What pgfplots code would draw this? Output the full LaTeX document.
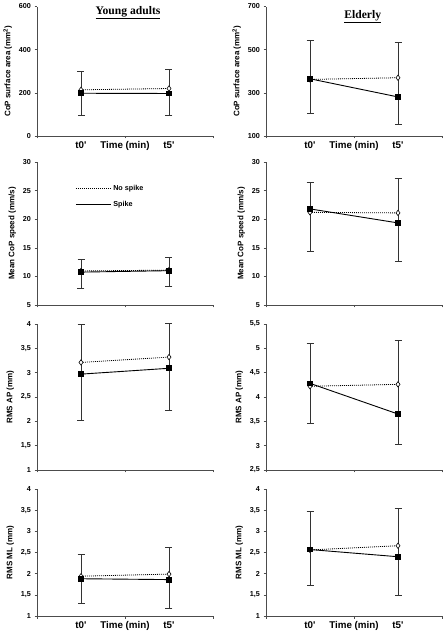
\documentclass[border=0pt]{standalone}
\usepackage{fontspec}
\setmainfont{Liberation Sans}
\newfontfamily\titlefont{Liberation Serif}
\usepackage{pgfplots}
\pgfplotsset{compat=1.18}
\pgfplotsset{
 panel/.style={scale only axis, width=176pt, axis lines*=left,
   axis line style={black!70, line width=0.6pt, -},
   xmin=0, xmax=2, xtick={0,1,2}, xticklabels={,,},
   tick align=outside, major tick length=2.5pt,
   tick style={black!70, line width=0.5pt},
   ticklabel style={font=\fontsize{7.2}{8}\selectfont\bfseries},
   ylabel style={font=\fontsize{8}{9}\selectfont\bfseries},
   yticklabel style={/pgf/number format/.cd, use comma, fixed, precision=1},
   /pgf/number format/assume math mode=true, clip=false},
 tlabels/.style={extra x ticks={0.5,1,1.5},
   extra x tick labels={t0\textquotesingle, Time (min), t5\textquotesingle},
   extra x tick style={major tick length=0pt,
     xticklabel style={font=\fontsize{9.8}{11}\selectfont\bfseries, yshift=-2pt}}},
 spike/.style={black, line width=0.9pt, mark=square*, mark size=2.4pt, mark options={solid, fill=black}},
 nospike/.style={black, line width=0.8pt, dash pattern=on 0.9pt off 1.1pt, mark=diamond*, mark size=2.7pt, mark options={solid, fill=white, line width=0.6pt}},
 ebar/.style={forget plot, draw=none, mark=none, error bars/.cd, y dir=both, y explicit,
   error bar style={black!80, line width=0.7pt},
   error mark options={rotate=90, mark size=3.5pt, black!80, line width=0.7pt}},
}
\begin{document}
\begin{tikzpicture}[x=1pt,y=1pt]
\useasboundingbox (0,0) rectangle (447,635);
% ---------- Row 1 ----------
\begin{axis}[panel, tlabels, at={(37pt,499pt)}, anchor=south west, height=129.5pt,
  ymin=0, ymax=600, ytick={0,200,400,600}, ylabel={CoP surface area (mm\textsuperscript{2})}]
\addplot[ebar] coordinates {(0.5,199) += (0,102) -= (0,102) (1.5,199) += (0,110) -= (0,102)};
\addplot[nospike] coordinates {(0.5,214) (1.5,220)};
\addplot[spike] coordinates {(0.5,198) (1.5,197)};
\node[font=\titlefont\fontsize{11.6}{13}\selectfont\bfseries] at (rel axis cs:0.517,0.95) {\underline{Young adults}};
\end{axis}
\begin{axis}[panel, tlabels, at={(266pt,499pt)}, anchor=south west, height=129.5pt,
  ymin=100, ymax=700, ytick={100,300,500,700}, ylabel={CoP surface area (mm\textsuperscript{2})}]
\addplot[ebar] coordinates {(0.5,365) += (0,176) -= (0,158) (1.5,283) += (0,251) -= (0,127)};
\addplot[nospike] coordinates {(0.5,362) (1.5,370)};
\addplot[spike] coordinates {(0.5,365) (1.5,281)};
\node[font=\titlefont\fontsize{11.6}{13}\selectfont\bfseries] at (rel axis cs:0.55,0.92) {\underline{Elderly}};
\end{axis}
% ---------- Row 2 ----------
\begin{axis}[panel, at={(37pt,330pt)}, anchor=south west, height=143pt,
  ymin=5, ymax=30, ytick={5,10,15,20,25,30}, ylabel={Mean CoP speed (mm/s)},
  legend style={draw=none, fill=none, at={(rel axis cs:0.2,0.87)}, anchor=north west,
    font=\fontsize{7.2}{8}\selectfont\bfseries, row sep=6pt},
  legend cell align=left,
  legend image code/.code={\draw[#1, mark=none] (0pt,0pt) -- (35pt,0pt);}]
\addplot[ebar] coordinates {(0.5,10.8) += (0,2.14) -= (0,2.94) (1.5,11.0) += (0,2.4) -= (0,2.67)};
\addplot[nospike] coordinates {(0.5,10.95) (1.5,11.1)};
\addlegendentry{No spike}
\addplot[spike] coordinates {(0.5,10.75) (1.5,11.0)};
\addlegendentry{Spike}
\end{axis}
\begin{axis}[panel, at={(266pt,330pt)}, anchor=south west, height=143pt,
  ymin=5, ymax=30, ytick={5,10,15,20,25,30}, ylabel={Mean CoP speed (mm/s)}]
\addplot[ebar] coordinates {(0.5,21.8) += (0,4.64) -= (0,7.34) (1.5,19.4) += (0,7.68) -= (0,6.69)};
\addplot[nospike] coordinates {(0.5,21.2) (1.5,21.1)};
\addplot[spike] coordinates {(0.5,21.8) (1.5,19.35)};
\end{axis}
% ---------- Row 3 ----------
\begin{axis}[panel, at={(37pt,165pt)}, anchor=south west, height=146pt,
  ymin=1, ymax=4, ytick={1,1.5,2,2.5,3,3.5,4}, ylabel={RMS AP (mm)}]
\addplot[ebar] coordinates {(0.5,2.97) += (0,1.02) -= (0,0.96) (1.5,3.09) += (0,0.92) -= (0,0.87)};
\addplot[nospike] coordinates {(0.5,3.21) (1.5,3.32)};
\addplot[spike] coordinates {(0.5,2.97) (1.5,3.09)};
\end{axis}
\begin{axis}[panel, at={(266pt,165pt)}, anchor=south west, height=146pt,
  ymin=2.5, ymax=5.5, ytick={2.5,3,3.5,4,4.5,5,5.5}, ylabel={RMS AP (mm)}]
\addplot[ebar] coordinates {(0.5,4.28) += (0,0.83) -= (0,0.83) (1.5,3.65) += (0,1.52) -= (0,0.63)};
\addplot[nospike] coordinates {(0.5,4.22) (1.5,4.26)};
\addplot[spike] coordinates {(0.5,4.28) (1.5,3.65)};
\end{axis}
% ---------- Row 4 ----------
\begin{axis}[panel, tlabels, at={(37pt,19pt)}, anchor=south west, height=127pt,
  ymin=1, ymax=4, ytick={1,1.5,2,2.5,3,3.5,4}, ylabel={RMS ML (mm)}]
\addplot[ebar] coordinates {(0.5,1.88) += (0,0.57) -= (0,0.58) (1.5,1.87) += (0,0.76) -= (0,0.70)};
\addplot[nospike] coordinates {(0.5,1.94) (1.5,1.99)};
\addplot[spike] coordinates {(0.5,1.88) (1.5,1.86)};
\end{axis}
\begin{axis}[panel, tlabels, at={(266pt,19pt)}, anchor=south west, height=127pt,
  ymin=1, ymax=4, ytick={1,1.5,2,2.5,3,3.5,4}, ylabel={RMS ML (mm)}]
\addplot[ebar] coordinates {(0.5,2.57) += (0,0.90) -= (0,0.85) (1.5,2.41) += (0,1.13) -= (0,0.92)};
\addplot[nospike] coordinates {(0.5,2.56) (1.5,2.66)};
\addplot[spike] coordinates {(0.5,2.57) (1.5,2.40)};
\end{axis}
\end{tikzpicture}
\end{document}
